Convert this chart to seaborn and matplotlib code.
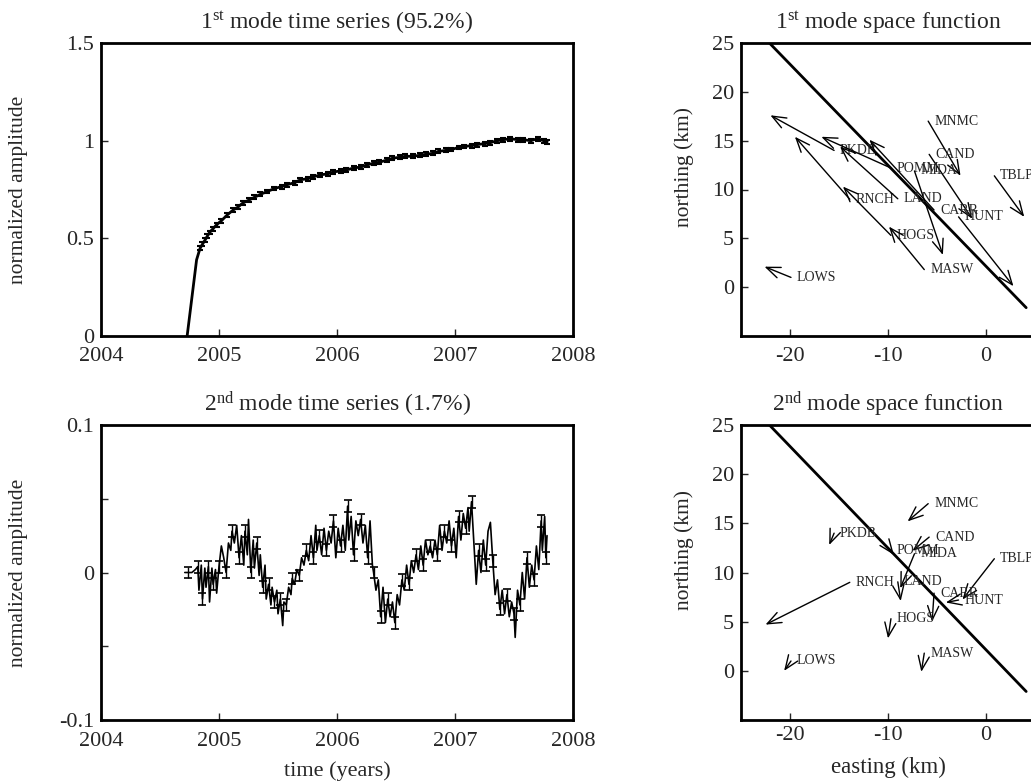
import numpy as np
import pandas as pd
import matplotlib
matplotlib.use("Agg")
import matplotlib.pyplot as plt
import seaborn as sns

sns.set_style("ticks")
plt.rcParams['font.family'] = ['Liberation Serif', 'DejaVu Serif']
plt.rcParams['mathtext.fontset'] = 'custom'
plt.rcParams['mathtext.rm'] = 'Liberation Serif'
plt.rcParams['mathtext.it'] = 'Liberation Serif:italic'
plt.rcParams['axes.unicode_minus'] = False

# ---------------- data ----------------
# 1st mode time series
t1 = [2004.73, 2004.81, 2004.84, 2004.86, 2004.88, 2004.90, 2004.92, 2004.95, 2004.98, 2005.02,
      2005.07, 2005.12, 2005.16, 2005.20, 2005.25, 2005.30, 2005.35, 2005.41, 2005.47, 2005.53,
      2005.58, 2005.64, 2005.69, 2005.75, 2005.80, 2005.86, 2005.92, 2005.97, 2006.03, 2006.08,
      2006.14, 2006.20, 2006.25, 2006.31, 2006.36, 2006.42, 2006.47, 2006.53, 2006.58, 2006.64,
      2006.70, 2006.75, 2006.81, 2006.86, 2006.92, 2006.97, 2007.03, 2007.08, 2007.14, 2007.19,
      2007.25, 2007.30, 2007.36, 2007.41, 2007.47, 2007.53, 2007.58, 2007.64, 2007.70, 2007.75,
      2007.78]
amp1 = [0.00, 0.39, 0.45, 0.47, 0.49, 0.51, 0.53, 0.55, 0.57, 0.59,
        0.62, 0.645, 0.66, 0.68, 0.695, 0.71, 0.725, 0.74, 0.755, 0.765,
        0.775, 0.785, 0.80, 0.805, 0.815, 0.825, 0.83, 0.84, 0.845, 0.85,
        0.86, 0.865, 0.875, 0.885, 0.89, 0.90, 0.91, 0.915, 0.92, 0.92,
        0.925, 0.93, 0.935, 0.945, 0.95, 0.955, 0.965, 0.97, 0.975, 0.98,
        0.985, 0.99, 1.00, 1.005, 1.01, 1.005, 1.005, 1.00, 1.01, 1.00,
        0.995]

# 2nd mode time series
t2 = [2004.71, 2004.74, 2004.77, 2004.80, 2004.82, 2004.83, 2004.85, 2004.86, 2004.88, 2004.89,
      2004.91, 2004.92, 2004.94, 2004.95, 2004.97, 2004.98, 2005.00, 2005.02, 2005.04, 2005.06,
      2005.08, 2005.10, 2005.11, 2005.13, 2005.15, 2005.17, 2005.19, 2005.21, 2005.22, 2005.24,
      2005.25, 2005.27, 2005.29, 2005.30, 2005.32, 2005.34, 2005.35, 2005.37, 2005.39, 2005.40,
      2005.42, 2005.44, 2005.45, 2005.47, 2005.49, 2005.50, 2005.52, 2005.54, 2005.55, 2005.57,
      2005.59, 2005.61, 2005.62, 2005.64, 2005.66, 2005.68, 2005.70, 2005.72, 2005.74, 2005.76,
      2005.78, 2005.80, 2005.82, 2005.83, 2005.85, 2005.87, 2005.89, 2005.91, 2005.93, 2005.95,
      2005.97, 2005.99, 2006.01, 2006.03, 2006.05, 2006.07, 2006.09, 2006.10, 2006.12, 2006.14,
      2006.16, 2006.18, 2006.20, 2006.22, 2006.24, 2006.26, 2006.28, 2006.30, 2006.31, 2006.33,
      2006.35, 2006.37, 2006.39, 2006.41, 2006.43, 2006.45, 2006.47, 2006.49, 2006.51, 2006.53,
      2006.55, 2006.57, 2006.59, 2006.61, 2006.63, 2006.65, 2006.67, 2006.69, 2006.71, 2006.73,
      2006.75, 2006.77, 2006.79, 2006.81, 2006.83, 2006.85, 2006.87, 2006.89, 2006.91, 2006.93,
      2006.95, 2006.97, 2006.99, 2007.01, 2007.03, 2007.05, 2007.07, 2007.09, 2007.11, 2007.12,
      2007.14, 2007.16, 2007.18, 2007.20, 2007.22, 2007.24, 2007.26, 2007.28, 2007.30, 2007.32,
      2007.34, 2007.36, 2007.38, 2007.40, 2007.42, 2007.44, 2007.46, 2007.48, 2007.50, 2007.51,
      2007.53, 2007.55, 2007.57, 2007.59, 2007.61, 2007.63, 2007.65, 2007.67, 2007.69, 2007.71,
      2007.73, 2007.74, 2007.76, 2007.77, 2007.78]
amp2 = [0.000, 0.000, 0.000, 0.002, 0.004, -0.012, 0.005, -0.018, 0.003, -0.010,
        0.004, -0.020, 0.003, -0.008, 0.002, -0.014, 0.004, 0.018, 0.010, 0.000,
        0.020, 0.015, 0.028, 0.020, 0.032, 0.010, 0.025, 0.005, 0.028, 0.012,
        0.036, 0.000, 0.022, 0.003, 0.020, -0.002, 0.012, -0.010, 0.005, -0.018,
        -0.008, -0.022, -0.010, -0.020, -0.012, -0.028, -0.018, -0.036, -0.020, -0.022,
        -0.010, -0.015, -0.004, -0.008, 0.002, -0.002, 0.010, 0.005, 0.015, 0.008,
        0.025, 0.010, 0.032, 0.015, 0.025, 0.012, 0.030, 0.015, 0.028, 0.020,
        0.035, 0.010, 0.030, 0.018, 0.032, 0.015, 0.045, 0.022, 0.038, 0.012,
        0.035, 0.025, 0.036, 0.020, 0.032, 0.010, 0.035, 0.005, 0.000, -0.012,
        -0.005, -0.030, -0.010, -0.034, -0.018, -0.030, -0.020, -0.034, -0.015, -0.022,
        -0.005, -0.012, 0.005, -0.008, 0.008, 0.000, 0.012, 0.002, 0.018, 0.005,
        0.022, 0.012, 0.018, 0.010, 0.022, 0.012, 0.032, 0.015, 0.028, 0.020,
        0.035, 0.018, 0.030, 0.010, 0.038, 0.022, 0.040, 0.030, 0.044, 0.028,
        0.048, 0.020, -0.008, 0.015, 0.000, 0.022, 0.005, 0.028, 0.034, 0.008,
        -0.015, -0.005, -0.025, -0.012, -0.028, -0.015, -0.030, -0.020, -0.028, -0.044,
        -0.012, -0.022, 0.000, -0.018, 0.010, -0.010, 0.005, -0.005, 0.018, 0.002,
        0.035, 0.015, 0.038, 0.010, 0.025]

# station positions (easting, northing km)
stations = ['MNMC', 'PKDB', 'CAND', 'POMM', 'MIDA', 'TBLP', 'RNCH',
            'LAND', 'CARR', 'HUNT', 'HOGS', 'MASW', 'LOWS']
st_east = [-5.9, -15.5, -5.8, -9.7, -7.3, 0.85, -13.9, -9.0, -5.3, -2.8, -9.7, -6.3, -19.9]
st_north = [17.0, 14.0, 13.6, 12.2, 11.9, 11.4, 9.0, 9.05, 7.9, 7.2, 5.3, 1.8, 1.0]

# arrow tips, 1st mode
tip1_east = [-2.6, -22.0, -1.4, -16.8, -4.4, 3.9, -19.5, -14.9, -11.9, 2.8, -14.6, -9.9, -22.6]
tip1_north = [11.4, 17.6, 7.0, 15.4, 3.3, 7.2, 15.4, 14.4, 15.1, 0.1, 10.3, 6.2, 2.1]

# arrow tips, 2nd mode
tip2_east = [-8.0, -16.0, -7.5, -9.4, -8.75, -2.4, -22.5, -8.7, -5.5, -4.1, -10.0, -6.6, -20.6]
tip2_north = [15.2, 12.8, 12.2, 11.8, 8.4, 7.25, 4.7, 7.1, 5.0, 6.95, 3.3, -0.1, 0.0]

# fault trace
fault_east = [-22.1, 4.1]
fault_north = [25.0, -2.1]

# ---------------- figure ----------------
W, H = 1031, 783
fig = plt.figure(figsize=(W / 100, H / 100), dpi=100)

def box(x0, y0, x1, y1):
    return [x0 / W, 1 - y1 / H, (x1 - x0) / W, (y1 - y0) / H]

ax_tl = fig.add_axes(box(101, 43, 573, 336))
ax_bl = fig.add_axes(box(101, 425, 573, 720))
ax_tr = fig.add_axes(box(741, 43, 1035, 336))
ax_br = fig.add_axes(box(741, 425, 1035, 720))

TICK = 16
TITLE = 17
LABEL = 15.5

def style(ax, xpad):
    for s in ax.spines.values():
        s.set_linewidth(2)
        s.set_color('black')
    ax.tick_params(direction='in', length=5, width=1, labelsize=TICK, which='both')
    ax.tick_params(axis='x', pad=xpad)
    ax.tick_params(axis='y', pad=5)

# --- time series panels
df1 = pd.DataFrame({'t': t1, 'a': amp1})
sns.lineplot(data=df1, x='t', y='a', ax=ax_tl, color='black', lw=2, estimator=None)
ax_tl.errorbar(t1[2:], amp1[2:], yerr=0.01, fmt='none', ecolor='black',
               elinewidth=1, capsize=2.5, capthick=1.5)
ax_tl.set_xlim(2004, 2008)
ax_tl.set_ylim(0, 1.5)
ax_tl.set_yticks([0, 0.5, 1, 1.5])
ax_tl.set_yticklabels(['0', '0.5', '1', '1.5'])
ax_tl.set_xticks([2004, 2005, 2006, 2007, 2008])
ax_tl.set_xlabel('')
ax_tl.set_ylabel('normalized amplitude', fontsize=LABEL)
ax_tl.yaxis.set_label_coords(-0.155, 0.5)
ax_tl.set_title(r'1$^{\mathrm{st}}$ mode time series (95.2%)', fontsize=TITLE, pad=10)
style(ax_tl, 8)

df2 = pd.DataFrame({'t': t2, 'a': amp2})
sns.lineplot(data=df2, x='t', y='a', ax=ax_bl, color='black', lw=1.2, estimator=None)
ax_bl.errorbar(t2, amp2, yerr=0.004, fmt='none', ecolor='black', elinewidth=1,
               capsize=3, capthick=1.2, errorevery=(1, 3))
ax_bl.set_xlim(2004, 2008)
ax_bl.set_ylim(-0.1, 0.1)
ax_bl.set_yticks([-0.1, 0, 0.1])
ax_bl.set_yticklabels(['-0.1', '0', '0.1'])
ax_bl.set_yticks([-0.05, 0.05], minor=True)
ax_bl.set_xticks([2004, 2005, 2006, 2007, 2008])
ax_bl.set_xlabel('time (years)', fontsize=16, labelpad=7)
ax_bl.set_ylabel('normalized amplitude', fontsize=LABEL)
ax_bl.yaxis.set_label_coords(-0.155, 0.5)
ax_bl.set_title(r'2$^{\mathrm{nd}}$ mode time series (1.7%)', fontsize=TITLE, pad=10)
style(ax_bl, 9)
ax_bl.tick_params(which='minor', length=5)

# --- map panels
def map_panel(ax, tip_e, tip_n, title, xlabel, xpad):
    ax.plot(fault_east, fault_north, color='black', lw=2)
    for name, e, n, te, tn in zip(stations, st_east, st_north, tip_e, tip_n):
        ax.annotate('', xy=(te, tn), xytext=(e, n),
                    arrowprops=dict(arrowstyle='->,head_length=1.0,head_width=0.4',
                                    color='black', lw=1, shrinkA=0, shrinkB=0))
        ax.text(e + 0.6, n, name, fontsize=10, ha='left', va='center')
    ax.set_xlim(-25, 5)
    ax.set_ylim(-5, 25)
    ax.set_xticks([-20, -10, 0])
    ax.set_yticks([0, 5, 10, 15, 20, 25])
    ax.set_ylabel('northing (km)', fontsize=LABEL)
    ax.yaxis.set_label_coords(-0.16, 0.577)
    ax.set_xlabel(xlabel, fontsize=16.5, labelpad=9)
    ax.set_title(title, fontsize=TITLE, pad=10)
    style(ax, xpad)

map_panel(ax_tr, tip1_east, tip1_north, r'1$^{\mathrm{st}}$ mode space function', '', 8)
map_panel(ax_br, tip2_east, tip2_north, r'2$^{\mathrm{nd}}$ mode space function',
          'easting (km)', 4)

fig.savefig('out.png', dpi=100)
